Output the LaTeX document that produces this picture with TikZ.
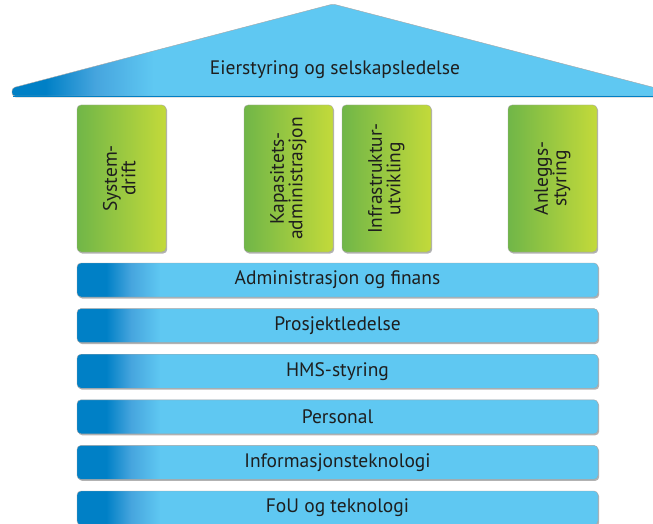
\documentclass[tikz,border=0pt]{standalone}
\usepackage{fontspec}
\setmainfont{PT Sans}
\usetikzlibrary{shadows}

\definecolor{roofdark}{RGB}{0,128,198}
\definecolor{roofmid}{RGB}{70,165,222}
\definecolor{rooflight}{RGB}{95,200,242}
\definecolor{pillarleft}{RGB}{112,182,72}
\definecolor{pillarright}{RGB}{195,218,58}
\definecolor{rim}{RGB}{165,165,165}
\definecolor{ink}{RGB}{30,30,30}

\pgfdeclarehorizontalshading{beamshade}{100bp}{color(0bp)=(roofdark); color(27.8bp)=(roofdark); color(30.2bp)=(roofmid); color(33bp)=(rooflight); color(100bp)=(rooflight)}
\pgfdeclarehorizontalshading{roofshade}{100bp}{color(0bp)=(roofdark); color(27.6bp)=(roofdark); color(31.5bp)=(roofmid); color(36bp)=(rooflight); color(100bp)=(rooflight)}

\tikzstyle{softshadow} = [drop shadow={shadow xshift=1.2pt, shadow yshift=-1.5pt, fill=black, opacity=0.3}]
\tikzstyle{pillar} = [draw=rim, rounded corners=4pt, left color=pillarleft, right color=pillarright, minimum width=89pt, minimum height=147pt, inner sep=0pt, font=\fontsize{19.5}{19.5}\selectfont, text=ink, softshadow]
\tikzstyle{beam} = [draw=rim, rounded corners=4pt, shading=beamshade, minimum width=521pt, minimum height=34pt, inner sep=0pt, font=\fontsize{19.5}{19.5}\selectfont, text=ink, softshadow]
\tikzstyle{roofshape} = [draw=rim, rounded corners=3pt, shading=roofshade, softshadow]
\tikzstyle{rooftext} = [font=\fontsize{19.5}{19.5}\selectfont, text=ink]

\newcommand{\vtext}[2]{\rotatebox{90}{\renewcommand{\arraystretch}{0.8}\begin{tabular}{@{}c@{}}#1\\#2\end{tabular}}}

\begin{document}
\begin{tikzpicture}[x=1pt,y=-1pt]
    \useasboundingbox (0,0) rectangle (653,524);
    \clip (0,0) rectangle (653,524);
    %% roof
    \path[roofshape] (12,96) -- (12,88) -- (333,4) -- (656,88) -- (656,96) -- cycle;
    \draw[roofdark, line width=0.8pt] (13,96) -- (653,96);
    \node[rooftext] (eier) at (335,69.5) {Eierstyring og selskapsledelse};
    %% pillars
    \foreach \name/\x/\first/\second in {
      sysdrift/121.5/System-/drift,
      kapadm/288.5/Kapasitets-/administrasjon,
      infra/386.5/Infrastruktur-/utvikling,
      anlegg/552.5/Anleggs-/styring}
    {
      \node[pillar] (\name) at (\x,178.5) {\vtext{\first}{\second}};
    }
    %% beams
    \foreach \name/\i/\text in {
      adm/0/Administrasjon og finans,
      prosjekt/1/Prosjektledelse,
      hms/2/HMS-styring,
      personal/3/Personal,
      it/4/Informasjonsteknologi,
      fou/5/FoU og teknologi}
    {
      \node[beam] (\name) at (337.5,280+45.6*\i) {\raisebox{-1.5pt}{\text}};
    }
\end{tikzpicture}
\end{document}
